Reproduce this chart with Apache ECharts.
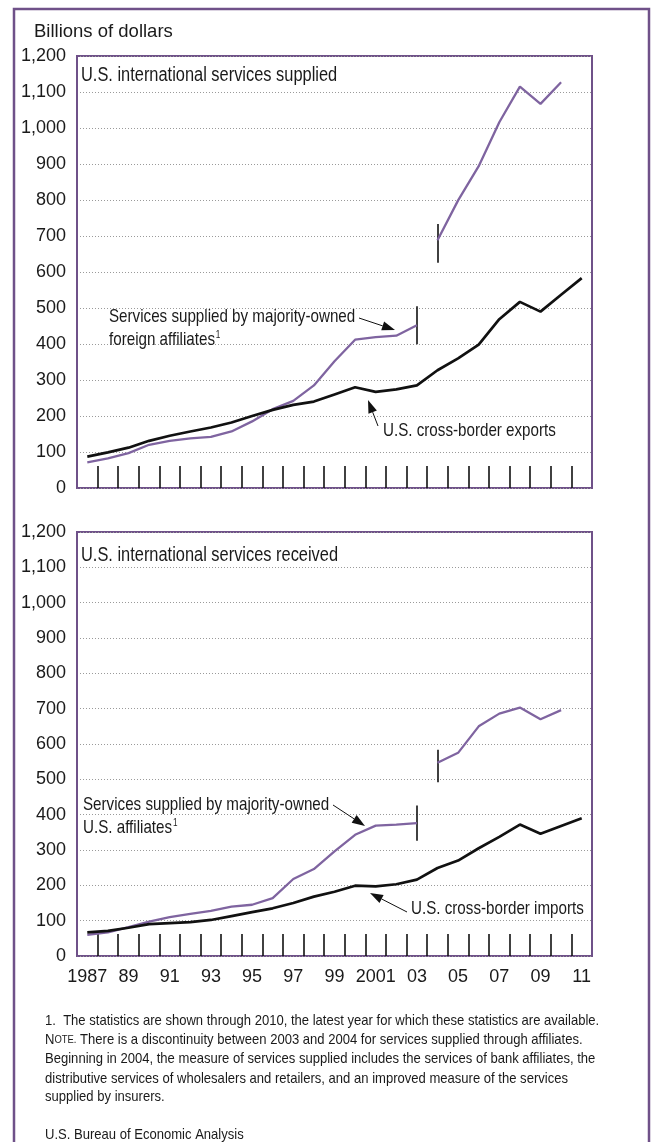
<!DOCTYPE html>
<html><head><meta charset="utf-8">
<script src="https://cdn.jsdelivr.net/npm/echarts@6/dist/echarts.min.js"></script>
<style>html,body{margin:0;padding:0;background:#fff}#c{width:653px;height:1142px}</style>
</head><body><div id="c"></div><script>
// ---------- data ----------
var years = ['1987','1988','1989','1990','1991','1992','1993','1994','1995','1996','1997','1998','1999',
             '2000','2001','2002','2003','2004','2005','2006','2007','2008','2009','2010','2011'];
var xTickLabels = ['1987','89','91','93','95','97','99','2001','03','05','07','09','11'];

// Top panel: U.S. international services supplied (billions of dollars)
var crossBorderExports = [87, 99, 112, 131, 145, 157, 168, 182, 200, 217, 231, 240, 260,
                          280, 267, 274, 285, 327, 360, 398, 469, 517, 490, 537, 583];
var affiliatesSuppliedTo2003 = [71, 82, 97, 120, 131, 138, 142, 157, 185, 219, 242, 285, 352,
                                412, 419, 423, 452];
var affiliatesSuppliedFrom2004 = [688, 799, 894, 1016, 1115, 1067, 1127];

// Bottom panel: U.S. international services received
var crossBorderImports = [67, 71, 80, 90, 93, 96, 102, 113, 124, 135, 150, 168, 182,
                          199, 197, 203, 216, 249, 270, 305, 337, 372, 346, 368, 390];
var affiliatesReceivedTo2003 = [60, 67, 82, 97, 110, 119, 128, 140, 145, 164, 218, 246, 296,
                                343, 369, 372, 376];
var affiliatesReceivedFrom2004 = [547, 575, 650, 686, 703, 670, 696];

// discontinuity bars: [year, low, high]
var topBreaks = [['2003', 399, 505], ['2004', 626, 733]];
var bottomBreaks = [['2003', 326, 426], ['2004', 492, 584]];

// ---------- helpers ----------
function alignFrom(startYear, arr) {
  var s = years.indexOf(startYear);
  return years.map(function (y, i) { var k = i - s; return (k >= 0 && k < arr.length) ? arr[k] : null; });
}
function breakLines(list) {
  return list.map(function (b) { return [{ coord: [b[0], b[1]] }, { coord: [b[0], b[2]] }]; });
}

var PURPLE = '#6f5189';
var LINEP = '#7f64a0';
var REG = "'Liberation Sans',Arial,Helvetica,sans-serif";

function xAxisCfg(gi, labels) {
  return {
    type: 'category', gridIndex: gi, data: years, boundaryGap: true, z: 1,
    axisLine: { show: true, lineStyle: { color: PURPLE, width: 2 } },
    axisTick: { show: true, inside: true, length: 22, interval: 0,
                lineStyle: { color: '#111', width: 1.6 } },
    axisLabel: labels ? {
      show: true, interval: 0, margin: 12, color: '#1a1a1a', fontSize: 18, fontFamily: REG,
      formatter: function (v, i) { return i % 2 === 0 ? xTickLabels[i / 2] : ''; }
    } : { show: false },
    splitLine: { show: false }
  };
}
function yAxisCfg(gi) {
  return {
    type: 'value', gridIndex: gi, min: 0, max: 1200, interval: 100, z: 5,
    axisLine: { show: true, lineStyle: { color: PURPLE, width: 2 } }, axisTick: { show: false },
    axisLabel: { color: '#1a1a1a', fontSize: 18, fontFamily: REG, margin: 11,
                 formatter: function (v) { return v.toLocaleString('en-US'); } },
    splitLine: { show: true, lineStyle: { color: '#9a9a9a', width: 1, type: [1, 2] } }
  };
}
function rightEdgeAxis(gi) {
  return {
    type: 'value', gridIndex: gi, position: 'right', min: 0, max: 1200, interval: 100, z: 5,
    axisLine: { show: true, lineStyle: { color: PURPLE, width: 2 } },
    axisTick: { show: false }, axisLabel: { show: false }, splitLine: { show: false }
  };
}
function lineSeries(gi, data, color, width, z) {
  return { type: 'line', xAxisIndex: gi, yAxisIndex: gi, data: data, symbol: 'none',
           connectNulls: false, lineStyle: { color: color, width: width }, z: z, silent: true };
}

function arrow(x1, y1, x2, y2) {
  var dx = x2 - x1, dy = y2 - y1, L = Math.sqrt(dx * dx + dy * dy);
  var ux = dx / L, uy = dy / L, hl = 13, hw = 4.5;
  var bx = x2 - ux * hl, by = y2 - uy * hl;
  return [
    { type: 'line', shape: { x1: x1, y1: y1, x2: bx, y2: by }, style: { stroke: '#111', lineWidth: 1 }, z: 50 },
    { type: 'polygon', shape: { points: [[x2, y2], [bx - uy * hw, by + ux * hw], [bx + uy * hw, by - ux * hw]] },
      style: { fill: '#111' }, z: 50 }
  ];
}
// condensed text: horizontally scaled Liberation Sans
function txt(x, y, text, size, sx, rich) {
  var st = { text: text, x: 0, y: 0, font: size + 'px ' + REG, fill: '#1a1a1a', align: 'left', verticalAlign: 'middle' };
  if (rich) st.rich = rich;
  return { type: 'text', x: x, y: y, scaleX: sx, scaleY: 1, style: st, z: 50 };
}
var supRich = {
  n: { font: '18.5px ' + REG, fill: '#1a1a1a' },
  s: { font: '10px ' + REG, fill: '#1a1a1a', verticalAlign: 'top', padding: [0, 0, 8, 1] }
};
var F = 14.5, FS = 0.9;

var graphics = [
  { type: 'rect', shape: { x: 14, y: 9, width: 635, height: 1160 },
    style: { fill: 'none', stroke: PURPLE, lineWidth: 2.5 }, z: 60 },
  txt(34, 32, 'Billions of dollars', 18.5, 1),
  txt(81, 75, 'U.S. international services supplied', 20, 0.82),
  txt(81, 555, 'U.S. international services received', 20, 0.82),
  txt(109, 317, 'Services supplied by majority-owned', 18.5, 0.82),
  txt(109, 340, '{n|foreign affiliates}{s|1}', 18.5, 0.82, supRich),
  txt(383, 431, 'U.S. cross-border exports', 18.5, 0.82),
  txt(83, 805, 'Services supplied by majority-owned', 18.5, 0.82),
  txt(83, 828, '{n|U.S. affiliates}{s|1}', 18.5, 0.82, supRich),
  txt(411, 909, 'U.S. cross-border imports', 18.5, 0.82),
  txt(45, 1021, '1.  The statistics are shown through 2010, the latest year for which these statistics are available.', F, FS),
  txt(45, 1040, '{a|N}{b|OTE.}{a| There is a discontinuity between 2003 and 2004 for services supplied through affiliates.}', F, FS,
      { a: { font: F + 'px ' + REG, fill: '#1a1a1a' }, b: { font: '10.5px ' + REG, fill: '#1a1a1a' } }),
  txt(45, 1059, 'Beginning in 2004, the measure of services supplied includes the services of bank affiliates, the', F, FS),
  txt(45, 1079, 'distributive services of wholesalers and retailers, and an improved measure of the services', F, FS),
  txt(45, 1097, 'supplied by insurers.', F, FS),
  txt(45, 1135, 'U.S. Bureau of Economic Analysis', F, FS)
].concat(arrow(359, 318, 395, 330), arrow(378, 426, 368, 400),
         arrow(333, 805, 365, 826), arrow(407, 912, 370, 893));

var breakStyle = { symbol: ['none', 'none'], silent: true, label: { show: false },
                   lineStyle: { color: '#111', width: 1.6, type: 'solid' } };

var option = {
  animation: false,
  backgroundColor: '#fff',
  grid: [
    { left: 77, top: 56, width: 515, height: 432, show: true, borderColor: PURPLE, borderWidth: 2, backgroundColor: 'transparent' },
    { left: 77, top: 532, width: 515, height: 424, show: true, borderColor: PURPLE, borderWidth: 2, backgroundColor: 'transparent' }
  ],
  xAxis: [xAxisCfg(0, false), xAxisCfg(1, true)],
  yAxis: [yAxisCfg(0), yAxisCfg(1), rightEdgeAxis(0), rightEdgeAxis(1)],
  series: [
    Object.assign(lineSeries(0, alignFrom('1987', affiliatesSuppliedTo2003), LINEP, 2.3, 8),
      { markLine: Object.assign({ data: breakLines(topBreaks) }, breakStyle) }),
    lineSeries(0, alignFrom('2004', affiliatesSuppliedFrom2004), LINEP, 2.3, 8),
    lineSeries(0, crossBorderExports, '#111', 2.7, 9),
    Object.assign(lineSeries(1, alignFrom('1987', affiliatesReceivedTo2003), LINEP, 2.3, 8),
      { markLine: Object.assign({ data: breakLines(bottomBreaks) }, breakStyle) }),
    lineSeries(1, alignFrom('2004', affiliatesReceivedFrom2004), LINEP, 2.3, 8),
    lineSeries(1, crossBorderImports, '#111', 2.7, 9)
  ],
  graphic: graphics
};
var chart = echarts.init(document.getElementById('c'), null, { renderer: 'canvas' });
chart.setOption(option);
</script></body></html>
